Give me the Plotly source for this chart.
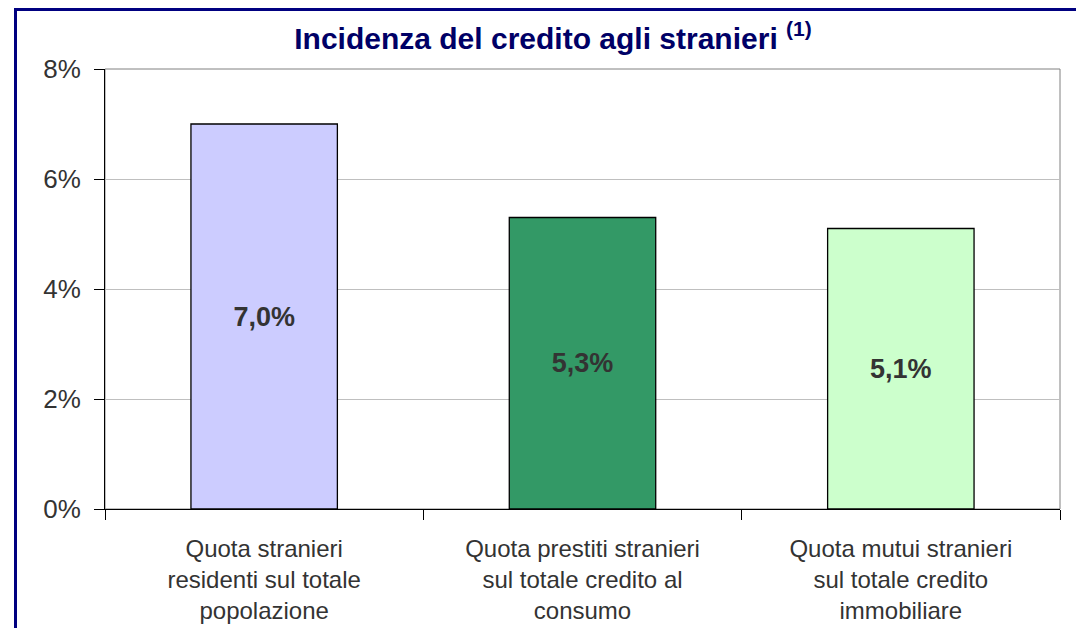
import plotly.graph_objects as go

categories = [
    "Quota stranieri<br>residenti sul totale<br>popolazione",
    "Quota prestiti stranieri<br>sul totale credito al<br>consumo",
    "Quota mutui stranieri<br>sul totale credito<br>immobiliare",
]
values = [0.070, 0.053, 0.051]
bar_colors = ["#CCCCFF", "#339966", "#CCFFCC"]
title_text = "Incidenza del credito agli stranieri <sup>(1)</sup>"
y_ticks = [0, 0.02, 0.04, 0.06, 0.08]

W, H = 1084, 628
OFF = 8  # page body margin
L, T = 105 - OFF, 69 - OFF
pw, ph = 955, 440
R, B = W - L - pw, H - T - ph

def px_x(x):
    return (x - OFF - L) / pw

def px_y(y):
    return (T + ph - (y - OFF)) / ph

fig = go.Figure()
fig.add_trace(go.Bar(
    x=categories,
    y=values,
    marker=dict(color=bar_colors, line=dict(color="#000000", width=1.3)),
    texttemplate="%{y:.1%}",
    textposition="inside",
    insidetextanchor="middle",
    textfont=dict(family="Liberation Sans, Arial", size=27, color="#333333", weight="bold"),
    hoverinfo="skip",
))

fig.update_layout(
    width=W, height=H,
    margin=dict(l=L, r=R, t=T, b=B),
    paper_bgcolor="white",
    plot_bgcolor="white",
    separators=",.",
    bargap=0.54,
    showlegend=False,
    font=dict(family="Liberation Sans, Arial", color="#333333"),
    title=dict(
        text=title_text,
        x=(553 - OFF) / W, xref="container", xanchor="center",
        y=1 - (38 - OFF) / H, yref="container", yanchor="middle",
        font=dict(family="Liberation Sans, Arial", size=30, color="#000066", weight="bold"),
    ),
    xaxis=dict(
        showline=True, linecolor="#000000", linewidth=1,
        ticks="outside", tickson="boundaries", ticklen=10, tickcolor="#000000",
        tickfont=dict(size=24, color="#333333"),
        ticklabelstandoff=18,
        showgrid=False,
    ),
    yaxis=dict(
        range=[0, 0.08],
        tickvals=y_ticks,
        tickformat=".0%",
        showline=True, linecolor="#000000", linewidth=1,
        ticks="outside", ticklen=10, tickcolor="#000000",
        tickfont=dict(size=26, color="#333333"),
        ticklabelstandoff=8,
        showgrid=True, gridcolor="#BFBFBF", gridwidth=1,
        zeroline=False,
    ),
    shapes=[
        dict(type="rect", xref="paper", yref="paper", x0=0, x1=1, y0=0, y1=1,
             line=dict(color="#808080", width=1), layer="below"),
        dict(type="rect", xref="paper", yref="paper",
             x0=px_x(15.5), x1=px_x(W + 40), y0=px_y(H + 40), y1=px_y(9.5),
             line=dict(color="#000080", width=3), fillcolor="rgba(0,0,0,0)", layer="above"),
    ],
)

fig.write_html("out.html")
